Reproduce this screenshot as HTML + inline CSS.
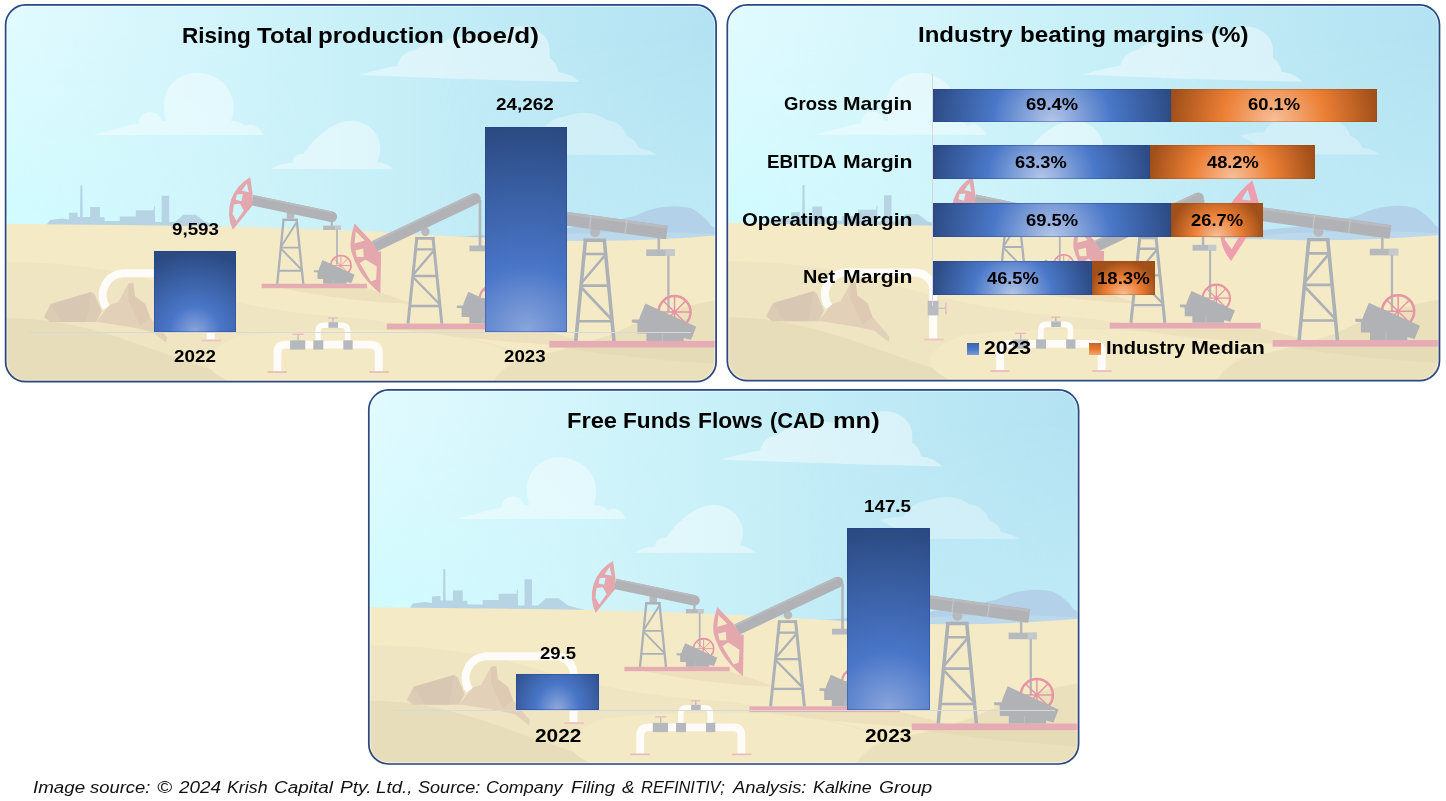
<!DOCTYPE html>
<html lang="en">
<head>
<meta charset="utf-8">
<title>Production, margins and free funds flows</title>
<style>
  html, body { margin: 0; padding: 0; background: #ffffff; }
  body { width: 1446px; height: 801px; position: relative; overflow: hidden;
         font-family: "Liberation Sans", sans-serif; color: #000; }
  .panel { position: absolute; box-sizing: border-box;
           border-radius: 20.5px; overflow: hidden; background: #d6f3f8; }
  .panel svg.bg { position: absolute; left: 0; top: 0; width: 100%; height: 100%; display: block; filter: blur(0.55px); }
  #p1 { left: 5px;   top: 4.3px;   width: 711.7px; height: 378px; }
  #p2 { left: 726.7px; top: 4.3px;   width: 713.4px; height: 377px; }
  #p3 { left: 368.2px; top: 389.3px; width: 711px; height: 375.3px; }
  .t { position: absolute; white-space: nowrap; font-weight: bold; line-height: 1;
       transform-origin: 0 0; }
  .t.f { font-weight: normal; font-style: italic; color: #111; }
  .bar { position: absolute; }
  .vbar, .hb { box-shadow: inset 0 0 0 1px rgba(32,66,150,0.40); }
  .ho { box-shadow: inset 0 0 0 1px rgba(150,70,10,0.30); }
  .vbar { background: radial-gradient(circle var(--r) at 50% 100%, #8aa6dc 0%, #4a76c8 32%, #2b4a82 100%); }
  .hb { background: radial-gradient(circle var(--r) at 50% 100%, #b4c6e8 0%, #4a78c8 50%, #2d4c86 100%); }
  .ho { background: radial-gradient(circle var(--r) at 50% 100%, #f7c09a 0%, #ec7f35 50%, #a2501a 100%); }
  .axis { position: absolute; background: #d6d8db; }
  #foot { position: absolute; left: 33px; top: 777px; font-style: italic; font-size: 17px;
          line-height: 20px; white-space: nowrap; color: #111; transform-origin: 0 0; }
</style>
</head>
<body>

<svg width="0" height="0" style="position:absolute">
  <defs>
    <symbol id="scene" viewBox="0 0 711 378" preserveAspectRatio="none">
      <defs>
        <linearGradient id="sky" x1="0" y1="0" x2="1" y2="0">
          <stop offset="0" stop-color="#e1fbff"/>
          <stop offset="0.12" stop-color="#dbf8fd"/>
          <stop offset="0.5" stop-color="#c8f0f8"/>
          <stop offset="1" stop-color="#b3e2f2"/>
        </linearGradient>
      <linearGradient id="hz" x1="0" y1="0" x2="1" y2="0">
          <stop offset="0" stop-color="#c4fbff" stop-opacity="0.65"/>
          <stop offset="0.45" stop-color="#c4fbff" stop-opacity="0"/>
          <stop offset="0.6" stop-color="#c8f0fa" stop-opacity="0"/>
          <stop offset="1" stop-color="#c8f0fa" stop-opacity="0.6"/>
        </linearGradient>
        <linearGradient id="vm" x1="0" y1="0" x2="0" y2="1">
          <stop offset="0.1" stop-color="#fff" stop-opacity="0"/>
          <stop offset="1" stop-color="#fff" stop-opacity="1"/>
        </linearGradient>
        <mask id="vmask" maskUnits="userSpaceOnUse" x="5" y="4" width="711" height="240">
          <rect x="5" y="4" width="711" height="240" fill="url(#vm)"/>
        </mask>
        <g id="mw">
          <g stroke="#e695a2" fill="none">
            <circle cx="42.7" cy="8.6" r="16" stroke-width="2.5"/>
            <path d="M42.7,-7.4 L42.7,24.6 M26.7,8.6 L58.7,8.6 M31.4,-2.7 L54,19.9 M31.4,19.9 L54,-2.7" stroke-width="1.5"/>
          </g>
          <path d="M13.5,0 L64.4,23.2 L59.2,36.3 L51.8,34.5 L51.8,37.4 L14.6,37.4 L14.6,29.9 L5.6,29.9 L5.6,19.4 L0,19.1 L0,16.1 L7.3,16.1 L8.3,12.7 Z" fill="#b0b2b6"/>
          <path d="M30.5,29.9 L30.5,37.4" stroke="#bfc2c6" stroke-width="0.9"/>
        </g>
      </defs>
      <g transform="translate(-5,-4)">
        <!-- sky -->
        <rect x="5" y="4" width="711" height="378" fill="url(#sky)"/>
        <rect x="5" y="4" width="711" height="240" fill="url(#hz)" mask="url(#vmask)"/>

        <!-- clouds -->
        <g fill="#ffffff" fill-opacity="0.42">
          <!-- cloud A -->
          <path d="M93,135 L120,128 Q130,124 138,124 Q140,112 150,112 Q158,112 162,121 L166,121 Q158,92 178,78 Q200,66 222,82 Q238,96 231,121 Q240,121 245,126 Q252,122 258,128 Q262,131 263,135 Z"/>
          <!-- cloud B -->
          <path d="M271,169 Q282,162 292,163 Q293,153 303,154 Q312,140 326,130 Q348,114 368,126 Q386,140 377,162 Q386,163 393,169 Z"/>
          <!-- cloud C -->
          <path d="M359,75 Q382,68 397,66 Q400,52 415,50 Q425,40 440,44 Q452,34 470,38 Q484,30 500,36 Q512,22 532,28 Q552,36 549,58 Q556,62 558,72 Q572,74 579,82 Q470,80 359,75 Z"/>
        </g>

        <path id="cloudD" d="M517,136 Q530,132 540,133 Q548,118 566,116 Q590,108 606,120 Q622,122 626,136 Q636,140 638,148 Q650,150 656,155 L560,155 Q540,150 517,136 Z" fill="#ffffff" fill-opacity="0.30"/>

        <!-- distant mountain (right) -->
        <path d="M451,237 Q500,234 567,228 Q610,222 634,216 Q650,208 663,207 Q676,205 690,208 Q702,214 711,226 L716,229 L716,246 L451,246 Z" fill="#b3d2e9"/>
        <path d="M540,236 Q620,229 716,234 L716,248 L540,248 Z" fill="#bcd9ec"/>

        <!-- distant city silhouette -->
        <path fill="#b6d4e4" d="M47,224 L50,220 L62,218.5 L69,219.5 L69,213 L77.5,212.6 L77.5,217 L80,217 L80.3,185.5 L82.3,185.5 L82.6,217 L90,217 L90,207 L99.8,207 L99.8,217.3 L104.5,217.3 L104.5,221 L119.7,221 L119.7,216.5 L135.7,216.5 L135.7,210.2 L153.6,210.2 L154,206.3 L154.8,206.3 L155,222 L161.5,222 L161.5,195.7 L169,195.7 L169,222 L175,222 L183,214.8 L195.5,214.8 L205,222 L222,226.5 L222,229 L47,227 Z"/>

        <!-- sand -->
        <path d="M5,223.7 Q120,225 230,226.5 Q330,229 400,233 Q470,238 567,240.7 Q640,242 716,235.5 L716,382 L5,382 Z" fill="#f5eac6"/>
        <!-- dune shading -->
        <path d="M5,262 Q90,262 160,282 Q250,310 330,316 Q420,322 520,352 Q600,372 716,376 L716,382 L5,382 Z" fill="#f0e5c2"/>
        <path d="M5,318 Q60,318 120,338 Q190,362 245,382 L5,382 Z" fill="#e8ddba"/>
        <path d="M240,336 Q330,326 420,332 Q480,338 520,356 Q500,368 492,382 L230,382 Q180,360 240,336 Z" fill="#f4e9c5"/>
        <path d="M716,300 Q660,310 612,334 Q560,352 522,358 Q502,368 492,382 L716,382 Z" fill="#ebe0bc"/>
        <path d="M280,288 L366,288 Q392,296 412,304 Q350,302 280,288 Z" fill="#ece1bc"/>
        <path d="M400,329.4 L537,329.4 Q575,338 600,347 Q500,344 400,329.4 Z" fill="#ece1bc"/>
        <path d="M560,347.6 L716,347.6 L716,364 Q640,360 560,347.6 Z" fill="#e6dbb7"/>
              <!-- ============ pumpjack 3 (right, partly behind) ============ -->
        <g>
          <!-- horsehead 3 -->
          <path fill="#ee9fae" fill-rule="evenodd" d="M528.5,180.8 Q500,205 496.5,232 Q497,250 507.5,261.6 L533,222 L535,203 Z M524,190 L518,200 L527,201 Z M513,206 L521,206 L519,215 L508,214 Z M503,226 L515,224 L519,231 L508,250 L501,240 Z"/>
          <!-- base -->
          <rect x="548.8" y="340.9" width="167.2" height="6.7" fill="#e6acb3"/>
          <!-- tower -->
          <g stroke="#acb1b7" fill="none">
            <path d="M585,238.8 L575.2,341 M603.6,238.8 L613.4,341" stroke-width="3.6"/>
            <path d="M583.1,240.2 L605.3,240.2" stroke-width="3.4"/>
            <path d="M584,254 L605,254 M581,285.6 L608,285.6 M577.5,321.3 L611.5,321.3" stroke-width="2.6"/>
            <path d="M603.8,256 L581.3,282.5 M581.3,288 L611.5,320" stroke-width="2.6"/>
          </g>
          <circle cx="594.4" cy="232.3" r="5" fill="#b6b9bd"/>
          <!-- beam -->
          <path d="M531,213.8 L666.25,232.5" stroke="#b0b2b6" stroke-width="13.8" fill="none"/>
          <path d="M531,208.4 L666.25,227.1" stroke="#b9bbbf" stroke-width="2.6" fill="none"/>
          <path d="M590.6,215.5 L589,228.5 M626.2,220.4 L624.6,233.4" stroke="#c3c6ca" stroke-width="1.2" fill="none"/>
          <!-- hanger -->
          <rect x="656.9" y="238" width="2.5" height="12" fill="#b3b6ba"/>
          <rect x="645.6" y="249.4" width="28.4" height="6.6" fill="#b6b9bd"/>
          <rect x="664.5" y="249.4" width="9.5" height="6.6" fill="#c5c8cc"/>
          <rect x="666.6" y="255.8" width="2.3" height="56.5" fill="#b3b6ba"/>
          <use href="#mw" transform="translate(631.2,303.5)"/>
        </g>

        <!-- ============ pumpjack 2 (centre) ============ -->
        <g>
          <rect x="386.4" y="323.6" width="150.6" height="5.8" fill="#e6acb3"/>
          <g stroke="#acb1b7" fill="none">
            <path d="M416.5,237 L407.6,323.6 M432.5,237 L441.4,323.6" stroke-width="3"/>
            <path d="M415,238.4 L434,238.4" stroke-width="2.8"/>
            <path d="M415.2,249.4 L433.8,249.4 M412.4,276 L436.6,276 M409.3,306 L439.7,306" stroke-width="2.3"/>
            <path d="M433,251 L413,274.5 M413,277.5 L440,305" stroke-width="2.3"/>
          </g>
          <circle cx="425" cy="231.8" r="4.2" fill="#b6b9bd"/>
          <!-- hanger rod & cross piece -->
          <rect x="478.2" y="200" width="2.6" height="47" fill="#b3b6ba"/>
          <rect x="469" y="245.5" width="23.5" height="5.8" fill="#b6b9bd"/>
          <rect x="484.5" y="245.5" width="8" height="5.8" fill="#c5c8cc"/>
          <rect x="485.4" y="251" width="2.1" height="48" fill="#b3b6ba"/>
          <!-- beam -->
          <path d="M374,246.5 L474.5,198.8" stroke="#b0b2b6" stroke-width="11" fill="none"/>
          <circle cx="474.8" cy="198.6" r="5.5" fill="#b0b2b6"/>
          <path d="M371.9,242 L473,194.3" stroke="#b9bbbf" stroke-width="2.2" fill="none"/>
          <use href="#mw" transform="translate(456.4,291.7) scale(0.85)"/>
          <!-- horsehead 2 -->
          <path fill="#e3a7ad" fill-rule="evenodd" d="M354.3,223.5 Q349,240 350.6,250 Q354,262 359.1,270.2 Q366,282 380,293.4 L380.8,251.6 L377.7,251.6 L370.8,241 Z M355.4,231.6 L364.4,240.6 L354.2,243.4 Z M355,250.4 L362.8,248.4 L363.4,257 L356.6,257 Z M359.4,263 L365.2,259.4 L376.4,266.6 L375.8,279.4 L370.6,281.6 Z"/>
        </g>

        <!-- ============ pumpjack 1 (left, small) ============ -->
        <g>
          <rect x="261.4" y="283.8" width="105.3" height="4.4" fill="#e6acb3"/>
          <g stroke="#acb1b7" fill="none">
            <path d="M283.4,218.6 L277,283.8 M296.3,218.6 L303,283.8" stroke-width="2.3"/>
            <path d="M282.4,219.8 L297.3,219.8" stroke-width="2.3"/>
            <path d="M280.6,247.6 L299.3,247.6 M278.3,270.8 L301.7,270.8" stroke-width="1.9"/>
            <path d="M296.8,221.5 L281,246.5 M281,248.8 L301.5,270" stroke-width="1.9"/>
          </g>
          <rect x="286.5" y="212.5" width="7.5" height="6.2" fill="#b6b9bd"/>
          <!-- hanger -->
          <rect x="330.4" y="220" width="2.2" height="6.5" fill="#b3b6ba"/>
          <rect x="322.9" y="225.7" width="17.7" height="4.3" fill="#b6b9bd"/>
          <rect x="334.6" y="225.7" width="6" height="4.3" fill="#c5c8cc"/>
          <rect x="335.8" y="229.5" width="1.8" height="35" fill="#b3b6ba"/>
          <!-- beam -->
          <path d="M252,200.2 L331.5,216.8" stroke="#b0b2b6" stroke-width="10.5" fill="none"/>
          <circle cx="331.6" cy="216.8" r="5.2" fill="#b0b2b6"/>
          <path d="M252.9,196 L332.4,212.6" stroke="#b9bbbf" stroke-width="2" fill="none"/>
          <use href="#mw" transform="translate(313.6,260.1) scale(0.632)"/>
          <!-- horsehead 1 -->
          <path fill="#e3a7ad" fill-rule="evenodd" d="M250,177.3 A40,40 0 0 0 232.6,229.7 L252,205.7 L252.4,194.4 Z M246.6,183.4 L241.6,190.6 L248.6,192.2 Z M236.6,194.6 L242.6,194.0 L241.2,201.2 L235.6,199.8 Z M233.6,204.4 L239.8,203.8 L243.6,210.6 L236.2,221 L232.4,214 Z"/>
        </g>
        <!-- rocks -->
        <path d="M44,317 L50.6,304 L91,292 L94.5,294 L101.5,311.5 L96,322 L50,322 Z" fill="#dccbb5"/>
        <path d="M50.6,304 L91,292 L86,322 L62,322 Z" fill="#d6c5b0" fill-opacity="0.6"/>
        <path d="M96,322 L109.6,304.7 L118,302.2 L128.1,283.7 L133.2,283.3 L134.8,296.3 L145,304 L150,317.5 L167,337.6 L166,342.6 L151.7,331.7 L133.2,327.5 L101,322.4 Z" fill="#e3d0b8"/>
        <path d="M128.1,283.7 L133.2,283.3 L134.8,296.3 L145,304 L150,317.5 L140,326 L128,300 Z" fill="#dcc7b0" fill-opacity="0.7"/>

        <!-- white pipe (left) -->
        <path d="M106.5,307.5 A21.8,21.8 0 0 1 124.7,273.2 L192.5,273.2 A18,18 0 0 1 210.5,291.2 L210.5,339.5" fill="none" stroke="#fdfcf9" stroke-width="8" stroke-linejoin="round"/>
        <rect x="201.4" y="339.6" width="19.4" height="1.8" fill="#eec3c2"/>
        <rect x="205" y="301.6" width="10.8" height="14.6" fill="#b8bbc0"/>
        <rect x="215.8" y="308.4" width="7" height="1.3" fill="#c5c0c2"/>
        <rect x="222.4" y="303.3" width="1.4" height="11.7" fill="#e9b9b8"/>

        <!-- bottom pipeline -->
        <g fill="none" stroke="#fdfcf9">
          <path d="M317.8,341 L317.8,331 Q317.8,325.2 323.6,325.2 L341.5,325.2 Q347.3,325.2 347.3,331 L347.3,341" stroke-width="5.6"/>
          <path d="M277.2,371.4 L277.2,353 Q277.2,344.7 285.5,344.7 L370.1,344.7 Q378.4,344.7 378.4,353 L378.4,371.4" stroke-width="7.8"/>
        </g>
        <g fill="#b5b9be">
          <rect x="289.8" y="340.3" width="15.2" height="9.3"/>
          <rect x="313" y="340.3" width="10" height="9.3"/>
          <rect x="343" y="340.3" width="9.3" height="9.3"/>
          <rect x="328.1" y="322.2" width="9.6" height="5.6"/>
          <rect x="297.2" y="334.6" width="1.2" height="6"/>
          <rect x="332.1" y="318" width="1.2" height="4.5"/>
        </g>
        <g fill="#e9b9b8">
          <rect x="292.3" y="333.6" width="11" height="1.3"/>
          <rect x="328" y="317.4" width="9.2" height="1.3"/>
          <rect x="267.4" y="371.2" width="19.2" height="1.6"/>
          <rect x="369" y="371.2" width="19.3" height="1.6"/>
        </g>
      </g>

    </symbol>
  </defs>
</svg>

<!-- Panel 1 -->
<div class="panel" id="p1">
  <svg class="bg" viewBox="0 0 711 378" preserveAspectRatio="none"><use href="#scene"/></svg>
</div>

<!-- Panel 2 -->
<div class="panel" id="p2">
  <svg class="bg" viewBox="0 0 711 378" preserveAspectRatio="none"><use href="#scene"/></svg>
</div>

<!-- Panel 3 -->
<div class="panel" id="p3">
  <svg class="bg" viewBox="0 0 711 378" preserveAspectRatio="none"><use href="#scene"/></svg>
</div>

<div class="axis" style="left:29px;top:331.7px;width:662px;height:1px"></div>
<div class="axis" style="left:393px;top:709.8px;width:662px;height:1px"></div>
<div class="axis" style="left:932.4px;top:74px;width:1px;height:232px"></div>
<div class="bar" style="left:966.5px;top:343px;width:12px;height:12px;background:linear-gradient(#3a62ad,#4f7ccb 60%,#7d9cd8)"></div>
<div class="bar" style="left:1088.7px;top:343px;width:12px;height:12px;background:linear-gradient(#c9641f,#ec7f35 60%,#f3a871)"></div>
<div class="bar vbar" style="left:153.6px;top:251.0px;width:82.8px;height:80.6px;--r:80.6px"></div>
<div class="bar vbar" style="left:484.7px;top:126.5px;width:82.1px;height:205.1px;--r:205.1px"></div>
<div class="bar vbar" style="left:516.2px;top:673.7px;width:83.0px;height:35.9px;--r:41.5px;background:radial-gradient(ellipse 52px 62px at 50% 100%, #8faadc 0%, #4a76c8 42%, #2e4e8a 100%)"></div>
<div class="bar vbar" style="left:846.8px;top:528.0px;width:83.2px;height:181.6px;--r:181.6px"></div>
<div class="bar hb" style="left:933.3px;top:89.1px;width:237.7px;height:32.5px;--r:118.9px"></div>
<div class="bar ho" style="left:1171.0px;top:89.1px;width:206.1px;height:32.5px;--r:103.0px"></div>
<div class="bar hb" style="left:933.3px;top:145.3px;width:217.1px;height:34.0px;--r:108.6px"></div>
<div class="bar ho" style="left:1150.4px;top:145.3px;width:164.6px;height:34.0px;--r:82.3px"></div>
<div class="bar hb" style="left:933.3px;top:203.2px;width:237.7px;height:33.4px;--r:118.9px"></div>
<div class="bar ho" style="left:1171.0px;top:203.2px;width:92.0px;height:33.4px;--r:46.0px"></div>
<div class="bar hb" style="left:933.3px;top:260.7px;width:158.7px;height:33.9px;--r:79.4px"></div>
<div class="bar ho" style="left:1092.0px;top:260.7px;width:63.0px;height:33.9px;--r:33.9px"></div>
<div class="t" style="left:171.54px;top:221.84px;font-size:16.90px;transform:scaleX(1.1100)">9,593</div>
<div class="t" style="left:496.43px;top:96.59px;font-size:16.90px;transform:scaleX(1.1192)">24,262</div>
<div class="t" style="left:174.24px;top:348.17px;font-size:17.11px;transform:scaleX(1.0994)">2022</div>
<div class="t" style="left:504.44px;top:348.17px;font-size:17.11px;transform:scaleX(1.0940)">2023</div>
<div class="t" style="left:984.17px;top:339.49px;font-size:18.44px;transform:scaleX(1.1459)">2023</div>
<div class="t" style="left:540.04px;top:644.68px;font-size:17.04px;transform:scaleX(1.0867)">29.5</div>
<div class="t" style="left:864.17px;top:498.18px;font-size:17.04px;transform:scaleX(1.1027)">147.5</div>
<div class="t" style="left:535.27px;top:727.49px;font-size:18.44px;transform:scaleX(1.1309)">2022</div>
<div class="t" style="left:865.27px;top:727.49px;font-size:18.44px;transform:scaleX(1.1309)">2023</div>
<div class="t" style="left:1025.75px;top:96.30px;font-size:17.25px;transform:scaleX(1.0653)">69.4%</div>
<div class="t" style="left:1247.85px;top:96.30px;font-size:17.25px;transform:scaleX(1.0653)">60.1%</div>
<div class="t" style="left:1015.45px;top:154.05px;font-size:17.25px;transform:scaleX(1.0570)">63.3%</div>
<div class="t" style="left:1206.92px;top:154.05px;font-size:17.25px;transform:scaleX(1.0578)">48.2%</div>
<div class="t" style="left:1025.75px;top:211.80px;font-size:17.25px;transform:scaleX(1.0653)">69.5%</div>
<div class="t" style="left:1190.85px;top:211.80px;font-size:17.25px;transform:scaleX(1.0653)">26.7%</div>
<div class="t" style="left:986.62px;top:269.55px;font-size:17.25px;transform:scaleX(1.0578)">46.5%</div>
<div class="t" style="left:1096.79px;top:269.55px;font-size:17.25px;transform:scaleX(1.0769)">18.3%</div>
<div class="t" style="left:182.15px;top:25.33px;font-size:22.29px;transform:scaleX(1.0104)">Rising</div>
<div class="t" style="left:256.86px;top:25.33px;font-size:22.29px;transform:scaleX(1.0811)">Total</div>
<div class="t" style="left:318.05px;top:25.33px;font-size:22.29px;transform:scaleX(1.0810)">production</div>
<div class="t" style="left:451.86px;top:25.33px;font-size:22.29px;transform:scaleX(1.1707)">(boe/d)</div>
<div class="t" style="left:918.16px;top:23.97px;font-size:22.36px;transform:scaleX(1.0731)">Industry</div>
<div class="t" style="left:1019.75px;top:23.97px;font-size:22.36px;transform:scaleX(1.0833)">beating</div>
<div class="t" style="left:1112.50px;top:23.97px;font-size:22.36px;transform:scaleX(1.0421)">margins</div>
<div class="t" style="left:1210.54px;top:23.97px;font-size:22.36px;transform:scaleX(1.0785)">(%)</div>
<div class="t" style="left:567.08px;top:410.01px;font-size:22.09px;transform:scaleX(1.0727)">Free</div>
<div class="t" style="left:623.04px;top:410.01px;font-size:22.09px;transform:scaleX(1.0246)">Funds</div>
<div class="t" style="left:697.53px;top:410.01px;font-size:22.09px;transform:scaleX(1.0338)">Flows</div>
<div class="t" style="left:770.32px;top:410.01px;font-size:22.09px;transform:scaleX(0.9924)">(CAD</div>
<div class="t" style="left:832.77px;top:410.01px;font-size:22.09px;transform:scaleX(1.1516)">mn)</div>
<div class="t" style="left:783.76px;top:95.62px;font-size:17.70px;transform:scaleX(1.0483)">Gross</div>
<div class="t" style="left:843.03px;top:95.62px;font-size:17.70px;transform:scaleX(1.1940)">Margin</div>
<div class="t" style="left:767.38px;top:153.52px;font-size:17.70px;transform:scaleX(1.0557)">EBITDA</div>
<div class="t" style="left:843.03px;top:153.52px;font-size:17.70px;transform:scaleX(1.1975)">Margin</div>
<div class="t" style="left:741.59px;top:210.97px;font-size:18.11px;transform:scaleX(1.1244)">Operating</div>
<div class="t" style="left:843.03px;top:210.97px;font-size:18.11px;transform:scaleX(1.1703)">Margin</div>
<div class="t" style="left:802.81px;top:268.82px;font-size:17.70px;transform:scaleX(1.1242)">Net</div>
<div class="t" style="left:843.03px;top:268.82px;font-size:17.70px;transform:scaleX(1.1975)">Margin</div>
<div class="t" style="left:1105.79px;top:339.89px;font-size:17.97px;transform:scaleX(1.1177)">Industry</div>
<div class="t" style="left:1190.91px;top:339.89px;font-size:17.97px;transform:scaleX(1.1920)">Median</div>
<div class="t f" style="left:32.84px;top:778.98px;font-size:16.32px;transform:scaleX(1.1493)">Image</div>
<div class="t f" style="left:90.30px;top:778.98px;font-size:16.32px;transform:scaleX(1.1283)">source:</div>
<div class="t f" style="left:157.19px;top:778.98px;font-size:16.32px;transform:scaleX(1.2425)">©</div>
<div class="t f" style="left:179.39px;top:778.98px;font-size:16.32px;transform:scaleX(1.1592)">2024</div>
<div class="t f" style="left:227.37px;top:778.98px;font-size:16.32px;transform:scaleX(1.0911)">Krish</div>
<div class="t f" style="left:274.15px;top:778.98px;font-size:16.32px;transform:scaleX(1.1615)">Capital</div>
<div class="t f" style="left:340.02px;top:778.98px;font-size:16.32px;transform:scaleX(1.1757)">Pty.</div>
<div class="t f" style="left:376.34px;top:778.98px;font-size:16.32px;transform:scaleX(1.1487)">Ltd.,</div>
<div class="t f" style="left:417.74px;top:778.98px;font-size:16.32px;transform:scaleX(1.1083)">Source:</div>
<div class="t f" style="left:485.80px;top:778.98px;font-size:16.32px;transform:scaleX(1.0967)">Company</div>
<div class="t f" style="left:570.65px;top:778.98px;font-size:16.32px;transform:scaleX(1.1245)">Filing</div>
<div class="t f" style="left:621.91px;top:778.98px;font-size:16.32px;transform:scaleX(1.1549)">&amp;</div>
<div class="t f" style="left:640.61px;top:778.98px;font-size:16.32px;transform:scaleX(1.0086)">REFINITIV;</div>
<div class="t f" style="left:733.12px;top:778.98px;font-size:16.32px;transform:scaleX(1.1249)">Analysis:</div>
<div class="t f" style="left:813.16px;top:778.98px;font-size:16.32px;transform:scaleX(1.0961)">Kalkine</div>
<div class="t f" style="left:879.33px;top:778.98px;font-size:16.32px;transform:scaleX(1.1741)">Group</div>

<svg width="1446" height="801" viewBox="0 0 1446 801" style="position:absolute;left:0;top:0;pointer-events:none">
  <g fill="none" stroke="#ffffff" stroke-opacity="0.45" stroke-width="1.1">
    <rect x="7" y="6.35" width="707.7" height="373.95" rx="18.6" ry="18.6"/>
    <rect x="728.7" y="6.3" width="709.4" height="373" rx="18.6" ry="18.6"/>
    <rect x="370.2" y="391.3" width="707" height="371.3" rx="18.6" ry="18.6"/>
  </g>
  <g fill="none" stroke="#2c4883" stroke-width="1.7">
    <rect x="5.6" y="4.95" width="710.5" height="376.75" rx="20" ry="20"/>
    <rect x="727.3" y="4.9" width="712.2" height="375.8" rx="20" ry="20"/>
    <rect x="368.8" y="389.9" width="709.8" height="374.1" rx="20" ry="20"/>
  </g>
</svg>



</body>
</html>
